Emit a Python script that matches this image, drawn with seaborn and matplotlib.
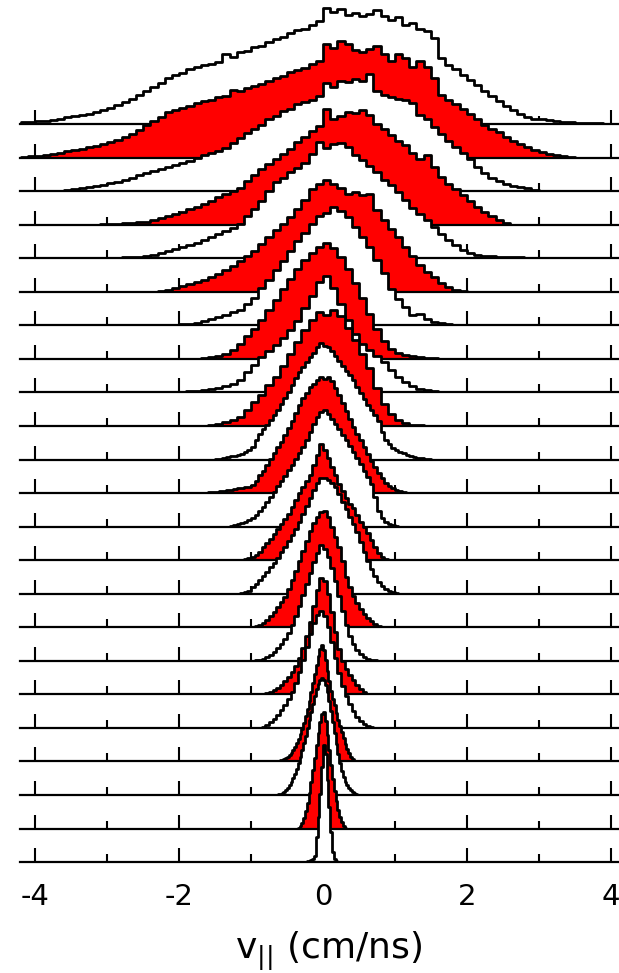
import numpy as np
import pandas as pd
import matplotlib.pyplot as plt
import seaborn as sns

# ------------------------------------------------------------
# Stacked v_parallel distributions (one step histogram per row,
# top row first). Heights are read off the figure in pixels
# above each row's baseline.
# ------------------------------------------------------------

h00 = [2, 2, 3, 3, 4, 5, 7, 8, 9, 10, 12, 14, 16, 19, 22, 25, 29, 33, 37, 41,
       46, 49, 51, 55, 57, 59, 60, 62, 70, 67, 72, 73, 77, 78, 82, 85, 87, 91,
       94, 95, 99, 103, 116, 112, 115, 109, 111, 108, 110, 114, 108, 104, 107,
       99, 101, 95, 93, 86, 66, 59, 55, 49, 44, 39, 33, 28, 23, 18, 14, 10, 7,
       5, 5, 4, 3, 2, 2, 1, 1, 1, 1]
h01 = [1, 2, 2, 3, 4, 5, 7, 8, 9, 11, 12, 14, 16, 18, 21, 24, 28, 33, 37, 41,
       46, 48, 50, 52, 55, 57, 58, 61, 62, 68, 67, 70, 72, 74, 77, 80, 82, 86,
       88, 90, 94, 97, 114, 110, 117, 114, 108, 106, 109, 112, 104, 97, 104,
       100, 91, 97, 91, 80, 63, 58, 54, 49, 44, 39, 33, 29, 26, 21, 17, 14, 11,
       8, 6, 4, 3, 2, 1]
h02 = [1, 2, 3, 4, 5, 6, 8, 9, 11, 13, 16, 18, 20, 22, 24, 26, 28, 30, 33, 36,
       38, 40, 43, 48, 53, 58, 62, 66, 72, 75, 80, 82, 87, 89, 91, 95, 108,
       104, 110, 109, 112, 110, 117, 100, 96, 94, 92, 91, 88, 76, 72, 64, 57,
       50, 44, 38, 32, 24, 18, 13, 10, 7, 5, 4, 3, 1]
h03 = [1, 1, 1, 2, 2, 3, 3, 5, 7, 9, 11, 13, 16, 18, 21, 24, 28, 31, 34, 37,
       44, 50, 56, 61, 66, 71, 76, 83, 88, 94, 99, 116, 106, 109, 113, 112,
       115, 110, 101, 96, 90, 84, 80, 72, 66, 70, 58, 48, 41, 36, 30, 24, 18,
       13, 9, 5, 2]
h04 = [1, 1, 1, 2, 3, 5, 7, 9, 11, 13, 15, 18, 21, 24, 27, 30, 34, 42, 49, 57,
       67, 76, 80, 86, 90, 95, 104, 116, 110, 114, 115, 111, 103, 98, 92, 86,
       78, 73, 66, 58, 50, 44, 38, 31, 24, 18, 13, 8, 5, 3, 2, 2, 1, 1, 1, 1]
h05 = [1, 2, 4, 6, 8, 10, 12, 15, 18, 22, 26, 31, 36, 41, 48, 55, 62, 68, 75,
       83, 92, 103, 108, 112, 108, 104, 98, 100, 97, 98, 82, 72, 63, 55, 45,
       36, 27, 20, 15, 9, 5, 2, 1]
h06 = [1, 1, 2, 4, 6, 8, 10, 13, 15, 21, 27, 37, 45, 55, 64, 74, 84, 92, 101,
       109, 112, 118, 114, 108, 98, 88, 78, 65, 52, 36, 26, 18, 10, 11, 6, 3,
       2, 1]
h07 = [1, 2, 3, 5, 9, 15, 23, 30, 39, 49, 59, 70, 80, 90, 99, 106, 112, 116,
       111, 102, 90, 76, 61, 45, 30, 18, 10, 6, 4, 3, 2, 1, 1]
h08 = [1, 1, 2, 3, 4, 6, 8, 12, 20, 27, 35, 41, 47, 54, 62, 71, 84, 96, 110,
       116, 104, 88, 72, 58, 48, 42, 36, 30, 22, 15, 10, 6, 3, 2, 1]
h09 = [1, 2, 4, 6, 9, 16, 24, 31, 41, 49, 60, 72, 84, 96, 106, 114, 111, 116,
       110, 98, 86, 72, 58, 38, 22, 12, 6, 3, 1, 1]
h10 = [1, 1, 2, 3, 4, 4, 5, 6, 8, 10, 13, 20, 26, 31, 35, 40, 45, 50, 56, 62,
       68, 75, 82, 88, 93, 98, 103, 107, 113, 117, 114, 113, 109, 104, 99, 94,
       89, 85, 80, 73, 67, 61, 55, 50, 45, 39, 28, 20, 16, 12, 10, 8, 7, 5, 4,
       3, 2, 2, 1, 1]
h11 = [1, 1, 1, 2, 2, 3, 3, 4, 5, 5, 6, 6, 8, 12, 18, 22, 28, 34, 40, 46, 51,
       58, 65, 72, 80, 88, 95, 100, 106, 109, 113, 116, 114, 116, 112, 105, 98,
       90, 82, 74, 66, 59, 53, 46, 39, 32, 26, 20, 15, 10, 7, 5, 3, 2, 1]
h12 = [1, 2, 3, 4, 5, 7, 9, 12, 16, 20, 25, 30, 35, 41, 46, 51, 57, 62, 68, 74,
       80, 87, 95, 103, 110, 115, 117, 113, 108, 103, 98, 92, 87, 81, 75, 69,
       63, 56, 50, 43, 30, 16, 9, 5, 3, 2, 1]
h13 = [1, 2, 3, 5, 8, 13, 17, 21, 26, 31, 36, 41, 46, 53, 60, 67, 73, 79, 85,
       95, 105, 116, 110, 102, 93, 85, 76, 69, 62, 56, 52, 45, 38, 33, 27, 20,
       13, 7, 3, 1]
h14 = [1, 2, 3, 7, 10, 14, 18, 22, 27, 31, 36, 42, 47, 53, 59, 65, 72, 80, 88,
       96, 104, 111, 116, 116, 114, 111, 107, 100, 92, 85, 77, 70, 62, 52, 42,
       33, 25, 18, 12, 8, 5, 3, 2, 1]
h15 = [1, 2, 4, 7, 11, 15, 20, 25, 30, 38, 47, 56, 66, 76, 86, 96, 104, 110,
       115, 116, 110, 100, 90, 80, 66, 50, 40, 31, 24, 18, 13, 9, 6, 3, 1]
h16 = [1, 1, 2, 4, 6, 9, 13, 17, 22, 28, 36, 45, 55, 66, 77, 88, 99, 108, 116,
       112, 104, 93, 80, 65, 50, 36, 25, 17, 11, 7, 4, 2, 1, 1]
h17 = [1, 2, 4, 6, 9, 13, 17, 22, 28, 36, 46, 58, 72, 88, 104, 116, 113, 100,
       82, 62, 45, 33, 25, 19, 14, 9, 5, 2]
h18 = [1, 3, 6, 9, 13, 18, 23, 29, 36, 45, 56, 68, 81, 94, 105, 113, 117, 112,
       101, 86, 70, 55, 42, 32, 24, 17, 11, 7, 4, 2, 1]
h19 = [1, 1, 2, 3, 4, 6, 8, 11, 14, 18, 22, 27, 32, 38, 45, 52, 60, 69, 78, 87,
       96, 105, 112, 116, 111, 101, 90, 80, 70, 62, 56, 48, 41, 35, 29, 23, 17,
       12, 8, 4, 2]
h20 = [1, 1, 2, 3, 5, 7, 10, 13, 17, 21, 26, 32, 38, 45, 52, 59, 67, 75, 83,
       91, 99, 106, 111, 115, 117, 115, 110, 103, 94, 84, 73, 62, 51, 41, 32,
       24, 18, 13, 10, 7, 5, 3, 2, 1]
h21 = [1, 3, 6, 11, 18, 26, 36, 47, 59, 71, 84, 96, 107, 115, 117, 108, 94, 79,
       64, 50, 38, 28, 19, 12, 7, 3, 1]
h22 = [1, 1, 2, 3, 6, 25, 45, 68, 95, 117, 108, 82, 55, 30, 10, 3, 1]

row_heights = [h00, h01, h02, h03, h04, h05, h06, h07, h08, h09, h10, h11,
               h12, h13, h14, h15, h16, h17, h18, h19, h20, h21, h22]

# left edge of the first bin and bin width of every row (cm/ns)
row_start = [-4.2, -4.2, -3.6, -3.1, -2.8, -2.3, -2.0, -1.7, -1.9, -1.6,
             -1.5, -1.6, -1.3, -1.1, -1.15, -0.95, -0.95, -0.8, -0.85,
             -0.6, -0.625, -0.35, -0.225]
row_width = [0.1] * 10 + [0.05] * 9 + [0.025] * 4

major_ticks = [-4, -2, 0, 2, 4]
minor_ticks = [-3, -1, 1, 3]

# -----------------------------
# Figure layout (pixels)
# -----------------------------
sns.set_style("white")
plt.rcParams["font.family"] = ["Liberation Sans Narrow", "DejaVu Sans"]
plt.rcParams["text.color"] = "black"
plt.rcParams["axes.unicode_minus"] = False

W, H = 619, 973
fig = plt.figure(figsize=(W / 100, H / 100), dpi=100)

top_base = 124      # y pixel of the first baseline
gap = 33.55         # distance between baselines
ax_h = 128          # height of each strip
x_left, x_right = 20, 619
xlim = (-4.214, 4.117)

n_rows = len(row_heights)
for k in range(n_rows):
    base = top_base + gap * k
    ax = fig.add_axes([x_left / W, (H - base) / H, (x_right - x_left) / W, ax_h / H])
    ax.patch.set_visible(False)

    heights = np.array(row_heights[k], dtype=float)
    edges = row_start[k] + row_width[k] * np.arange(len(heights) + 1)
    row_df = pd.DataFrame({"v": (edges[:-1] + edges[1:]) / 2, "h": heights})

    fill = "white" if k % 2 == 0 else "#ff0000"
    sns.histplot(data=row_df, x="v", weights="h", bins=list(edges),
                 element="step", fill=True, facecolor=fill,
                 edgecolor="black", alpha=1, linewidth=2.0, ax=ax)

    ax.set_xlim(*xlim)
    ax.set_ylim(0, ax_h)
    ax.set_ylabel("")
    ax.set_xlabel("")
    ax.set_yticks([])
    for side in ["top", "left", "right"]:
        ax.spines[side].set_visible(False)
    ax.spines["bottom"].set_color("black")
    ax.spines["bottom"].set_linewidth(1.6)

    ax.set_xticks(major_ticks)
    ax.set_xticks(minor_ticks, minor=True)
    ax.tick_params(axis="x", which="major", direction="in", length=9.8,
                   width=1.5, color="black", bottom=True)
    ax.tick_params(axis="x", which="minor", direction="in", length=6.0,
                   width=1.5, color="black", bottom=True)
    if k < n_rows - 1:
        ax.tick_params(axis="x", labelbottom=False)
    else:
        ax.tick_params(axis="x", labelsize=21, pad=15, labelcolor="black")

fig.text(329 / W, 15 / H, r"$\mathregular{v_{||}}$ (cm/ns)", ha="center",
         va="baseline", fontsize=26, color="black", family="DejaVu Sans")

fig.savefig("out.png", dpi=100)
